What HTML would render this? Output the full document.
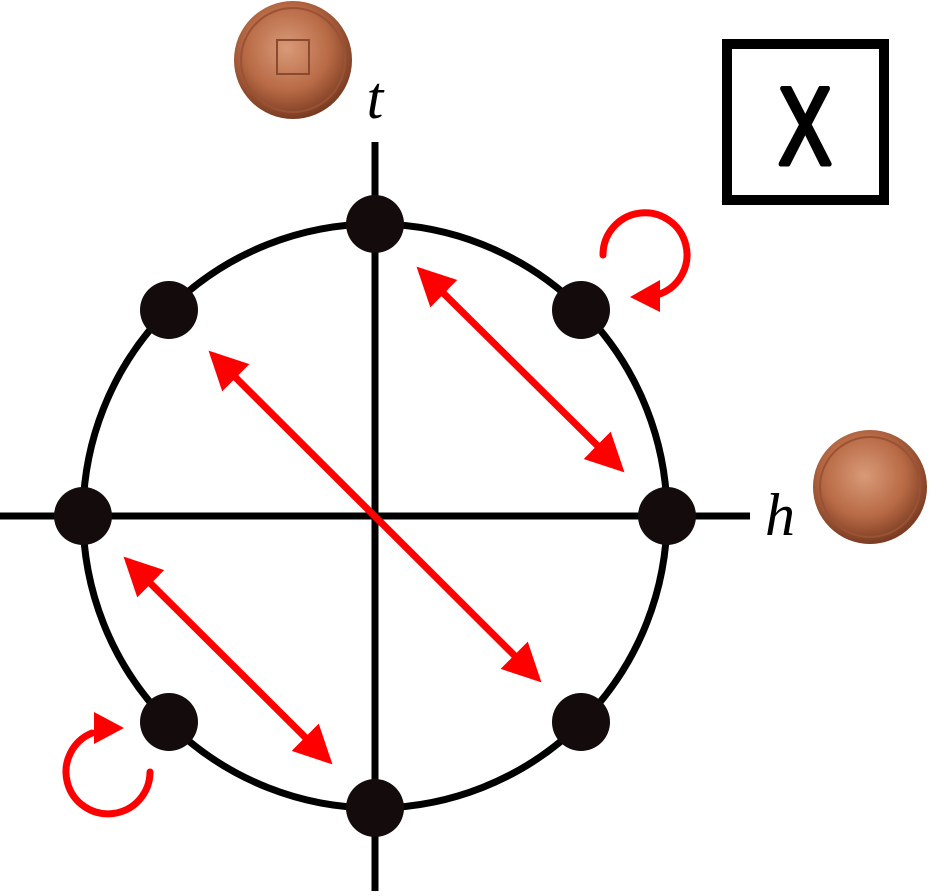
<!DOCTYPE html>
<html><head><meta charset="utf-8"><style>html,body{margin:0;padding:0;background:#fff}</style></head>
<body>
<svg width="931" height="891" viewBox="0 0 931 891" xmlns="http://www.w3.org/2000/svg">
<defs>
<radialGradient id="cu" cx="45%" cy="40%" r="60%">
<stop offset="0" stop-color="#d99a78"/><stop offset="0.6" stop-color="#b86a45"/><stop offset="1" stop-color="#7a3b22"/>
</radialGradient>
<marker id="ah" viewBox="0 0 10 10" refX="8" refY="5" markerWidth="5.5" markerHeight="5.5" orient="auto-start-reverse">
<path d="M0,0 L10,5 L0,10 z" fill="#ff0000"/></marker>
</defs>
<line x1="0" y1="516" x2="750" y2="516" stroke="#000" stroke-width="7"/>
<line x1="375" y1="142" x2="375" y2="891" stroke="#000" stroke-width="7"/>
<circle cx="375" cy="516" r="292" fill="none" stroke="#000" stroke-width="7"/>
<g fill="#140c0c">
<circle cx="375" cy="224" r="29"/><circle cx="375" cy="808" r="29"/>
<circle cx="83" cy="516" r="29"/><circle cx="667" cy="516" r="29"/>
<circle cx="581" cy="310" r="29"/><circle cx="169" cy="310" r="29"/>
<circle cx="169" cy="722" r="29"/><circle cx="581" cy="722" r="29"/>
</g>
<g stroke="#ff0000" stroke-width="7" fill="none" stroke-linecap="round">
<line x1="422" y1="272" x2="619" y2="467" marker-start="url(#ah)" marker-end="url(#ah)"/>
<line x1="214" y1="356" x2="536" y2="677" marker-start="url(#ah)" marker-end="url(#ah)"/>
<line x1="129" y1="562" x2="327" y2="759" marker-start="url(#ah)" marker-end="url(#ah)"/>
<path d="M603,255 A42,42 0 1 1 660,294"/>
<path d="M150,772 A42,42 0 1 1 92,733"/>
</g>
<path d="M630,297 L660,280 L660,312 z" fill="#ff0000"/>
<path d="M124,728 L94,712 L94,744 z" fill="#ff0000"/>
<rect x="727" y="44" width="157" height="156" fill="none" stroke="#000" stroke-width="10"/>
<text transform="translate(805,164) scale(0.72,1)" font-family="Liberation Sans, sans-serif" font-size="110" text-anchor="middle" stroke="#000" stroke-width="5" stroke-linejoin="round">X</text>
<text x="375" y="118" font-family="Liberation Serif, serif" font-style="italic" font-size="60" text-anchor="middle">t</text>
<text x="780" y="535" font-family="Liberation Serif, serif" font-style="italic" font-size="60" text-anchor="middle">h</text>
<circle cx="293" cy="60" r="59" fill="url(#cu)"/>
<circle cx="293" cy="60" r="52" fill="none" stroke="#9a5235" stroke-width="2"/>
<rect x="277" y="40" width="32" height="34" fill="none" stroke="#8a4a30" stroke-width="2"/>
<circle cx="870" cy="487" r="57" fill="url(#cu)"/>
<circle cx="870" cy="487" r="50" fill="none" stroke="#9a5235" stroke-width="2"/>
</svg>
</body></html>
